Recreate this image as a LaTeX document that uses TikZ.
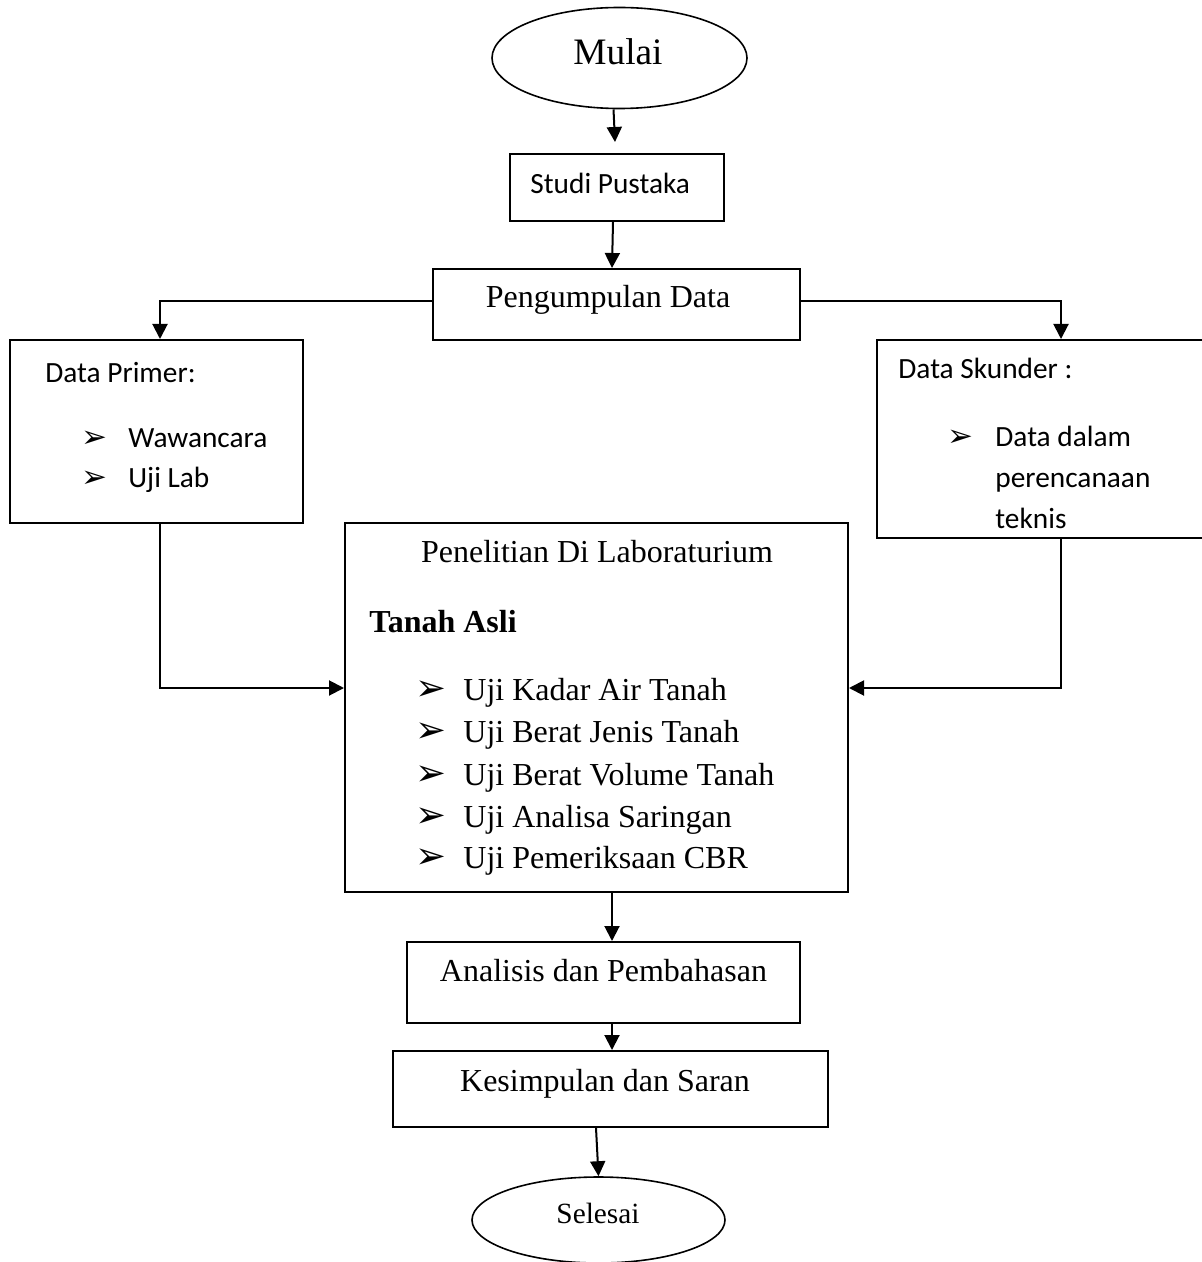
\documentclass[tikz,border=0pt]{standalone}
\usepackage{fontspec}
\setmainfont{Liberation Serif}
\newfontfamily\calfont{Carlito}
\newfontfamily\symfont{DejaVu Sans}
\usetikzlibrary{shapes.geometric,arrows.meta,calc}
\begin{document}
\begin{tikzpicture}[x=0.5pt,y=-0.5pt,
 boxst/.style={draw,line width=1pt,inner sep=0,rectangle},
 ell/.style={draw,ellipse,line width=0.8pt,inner sep=0},
 conn/.style={line width=1pt,-{Triangle[width=7.5pt,length=7.5pt]}},
 tx/.style={inner sep=0,anchor=base,font=\fontsize{16}{19}\selectfont},
 txl/.style={inner sep=0,anchor=base west,font=\fontsize{16}{19}\selectfont},
 cal/.style={inner sep=0,anchor=base west,font=\calfont\fontsize{14.67}{17}\selectfont},
 bulT/.style={inner sep=0,anchor=base west,font=\symfont\fontsize{18.5}{20}\selectfont},
 bulC/.style={inner sep=0,anchor=base west,font=\symfont\fontsize{15.5}{17}\selectfont},
]
\useasboundingbox (0,0) rectangle (1201,1262);

% shapes
\node[ell,minimum width=127.5pt,minimum height=50.5pt] (mulai) at (619.5,58) {};
\node[boxst,minimum width=107pt,minimum height=33.5pt] (studi) at (617,187.5) {};
\node[boxst,minimum width=183.5pt,minimum height=35.5pt] (peng) at (616.5,304.5) {};
\node[boxst,minimum width=146.5pt,minimum height=91.5pt] (primer) at (156.5,431.5) {};
\node[boxst,minimum width=166.5pt,minimum height=99pt] (skunder) at (1043.5,439) {};
\node[boxst,minimum width=251.5pt,minimum height=184.5pt] (penel) at (596.5,707.5) {};
\node[boxst,minimum width=196.5pt,minimum height=40.5pt] (anal) at (603.5,982.5) {};
\node[boxst,minimum width=217.5pt,minimum height=38pt] (kesim) at (610.5,1089) {};
\node[ell,minimum width=126.5pt,minimum height=43pt] (selesai) at (598.5,1220) {};

% texts
\node[tx,font=\fontsize{18.67}{22}\selectfont] (mulaiT) at (618,65) {Mulai};
\node[cal] (studiT) at (530,194) {Studi Pustaka};
\node[tx] (pengT) at (608,308) {Pengumpulan Data};

\node[cal] (primT) at (45,382) {Data Primer:};
\node[bulC] (pb1) at (81,447) {➢};
\node[cal] (pt1) at (128,447) {Wawancara};
\node[bulC] (pb2) at (81,487) {➢};
\node[cal] (pt2) at (128,487) {Uji Lab};

\node[cal] (skT) at (898,379) {Data Skunder :};
\node[bulC] (sb1) at (947,446) {➢};
\node[cal] (st1) at (995,446) {Data dalam};
\node[cal] (st2) at (995,487) {perencanaan};
\node[cal] (st3) at (995,528) {teknis};

\node[tx] (penT) at (597,562) {Penelitian Di Laboraturium};
\node[txl,font=\bfseries\fontsize{16}{19}\selectfont] (tanahT) at (369,632) {Tanah Asli};
\node[bulT] (lb1) at (415,700) {➢};
\node[txl] (lt1) at (463,700) {Uji Kadar Air Tanah};
\node[bulT] (lb2) at (415,742) {➢};
\node[txl] (lt2) at (463,742) {Uji Berat Jenis Tanah};
\node[bulT] (lb3) at (415,785) {➢};
\node[txl] (lt3) at (463,785) {Uji Berat Volume Tanah};
\node[bulT] (lb4) at (415,827) {➢};
\node[txl] (lt4) at (463,827) {Uji Analisa Saringan};
\node[bulT] (lb5) at (415,868) {➢};
\node[txl] (lt5) at (463,868) {Uji Pemeriksaan CBR};

\node[tx] (analT) at (603.5,981) {Analisis dan Pembahasan};
\node[tx] (kesT) at (605,1091) {Kesimpulan dan Saran};
\node[tx,font=\fontsize{14.67}{17}\selectfont] (selT) at (598,1223) {Selesai};

% connectors
\draw[conn] ($(mulai.south)+(-6,0)$) -- ($(studi.north)+(-2,-11)$);
\draw[conn] ($(studi.south)+(-4,0)$) -- ($(peng.north)+(-4.5,0)$);
\draw[conn] ($(peng.west)+(0,-3.5)$) -| ($(primer.north)+(3.5,0)$);
\draw[conn] ($(peng.east)+(0,-3.5)$) -| ($(skunder.north west)+(185,0)$);
\draw[conn] ($(primer.south)+(3.5,0)$) |- ($(penel.west)+(0,-19.5)$);
\draw[conn] ($(skunder.south west)+(185,0)$) |- ($(penel.east)+(0,-19.5)$);
\draw[conn] ($(penel.south)+(15.5,0)$) -- ($(anal.north)+(8.5,0)$);
\draw[conn] ($(anal.south)+(8.5,0)$) -- ($(kesim.north)+(1.5,0)$);
\draw[conn] ($(kesim.south)+(-14.5,0)$) -- (selesai.north);
\end{tikzpicture}
\end{document}
